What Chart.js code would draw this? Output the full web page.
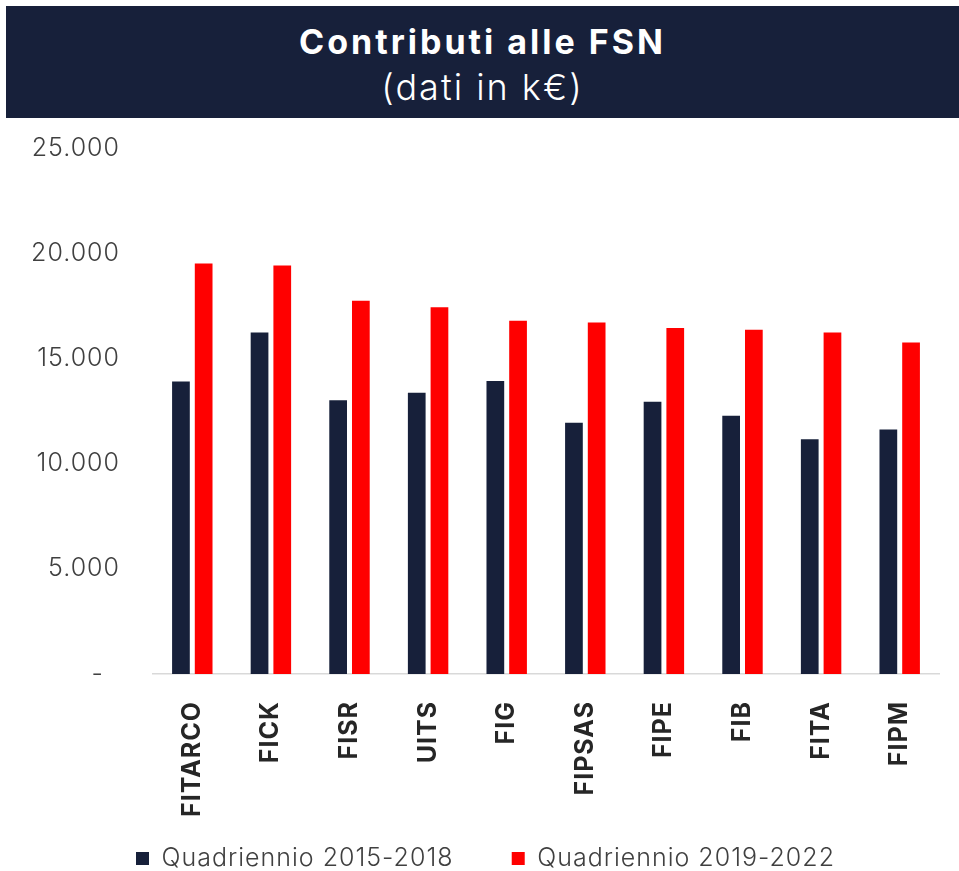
<!DOCTYPE html>
<html>
<head>
<meta charset="utf-8">
<script src="https://cdn.jsdelivr.net/npm/chart.js@4"></script>
<style>
  html, body { margin: 0; padding: 0; background: #fff; overflow: hidden; }
  body { width: 959px; height: 871px; position: relative; font-family: Inter, 'DejaVu Sans', sans-serif; }
  #banner {
    position: absolute; left: 6px; top: 6px; width: 953px; height: 112px;
    background: #17203a; color: #fff; text-align: center;
  }
  #banner .t1 { padding-top: 16px; line-height: 40px; font-size: 34px; font-weight: 700; letter-spacing: 3px; }
  #banner .t2 { margin-top: 3px; line-height: 44px; font-size: 36px; font-weight: 300; letter-spacing: 2px; }
  #wrap { position: absolute; left: 0; top: 118px; width: 959px; height: 763px; }
</style>
</head>
<body>
<div id="banner">
  <div class="t1">Contributi alle FSN</div>
  <div class="t2">(dati in k€)</div>
</div>
<div id="wrap"><canvas id="canvas"></canvas></div>
<script>
const federazioni = ['FITARCO', 'FICK', 'FISR', 'UITS', 'FIG', 'FIPSAS', 'FIPE', 'FIB', 'FITA', 'FIPM'];
const quad2015 = [13900, 16230, 13010, 13370, 13920, 11940, 12940, 12270, 11160, 11620];
const quad2019 = [19510, 19420, 17740, 17430, 16790, 16710, 16450, 16360, 16230, 15760];
const yTicks = [0, 5000, 10000, 15000, 20000, 25000];

const FONT = "Inter, 'DejaVu Sans', sans-serif";
const navy = '#17203a';
const red = '#ff0000';

function fmt(v) {
    if (v === 0) return '-  ';
    return String(v).replace(/\B(?=(\d{3})+(?!\d))/g, '.');
}

// the original font is wider, a bit of letter spacing helps
const spacing = {
    id: 'spacing',
    beforeLayout: chart => { chart.ctx.letterSpacing = '1px'; },
    beforeDraw: chart => { chart.ctx.letterSpacing = '1px'; }
};

var ctx = document.getElementById('canvas').getContext('2d');
var myChart = new Chart(ctx, {
    type: 'bar',
    plugins: [spacing],
    data: {
        labels: federazioni,
        datasets: [{
            label: 'Quadriennio 2015-2018',
            backgroundColor: navy,
            data: quad2015
        }, {
            label: 'Quadriennio 2019-2022',
            backgroundColor: red,
            data: quad2019
        }]
    },
    options: {
        responsive: true,
        maintainAspectRatio: false,
        animation: false,
        datasets: {
            bar: { categoryPercentage: 0.578, barPercentage: 0.78 }
        },
        layout: { padding: { left: 32, right: 20, top: 30, bottom: 0 } },
        plugins: {
            tooltip: { enabled: false },
            legend: {
                position: 'bottom',
                labels: {
                    boxWidth: 13,
                    boxHeight: 13,
                    padding: 2,
                    color: '#404040',
                    font: { family: FONT, size: 25, weight: '300' },
                    generateLabels: chart => {
                        const items = Chart.defaults.plugins.legend.labels.generateLabels(chart);
                        items[0].text += '       ';
                        return items;
                    }
                }
            }
        },
        scales: {
            x: {
                grid: { display: false },
                border: { color: '#d9d9d9', width: 1.5 },
                ticks: {
                    autoSkip: false,
                    minRotation: 90,
                    maxRotation: 90,
                    padding: 19,
                    color: '#262626',
                    font: { family: FONT, size: 25, weight: 'bold' }
                },
                afterFit: s => { s.height = 170; }
            },
            y: {
                min: 0,
                max: 25000,
                grid: { display: false, drawTicks: false },
                border: { display: false },
                afterBuildTicks: s => { s.ticks = yTicks.map(v => ({ value: v })); },
                ticks: {
                    padding: 33,
                    color: '#404040',
                    font: { family: FONT, size: 25, weight: '300' },
                    callback: v => fmt(v)
                },
                afterFit: s => {
                    s.width = 121;
                    s.paddingTop = 0;
                    s.paddingBottom = 0;
                }
            }
        }
    }
});
</script>
</body>
</html>
